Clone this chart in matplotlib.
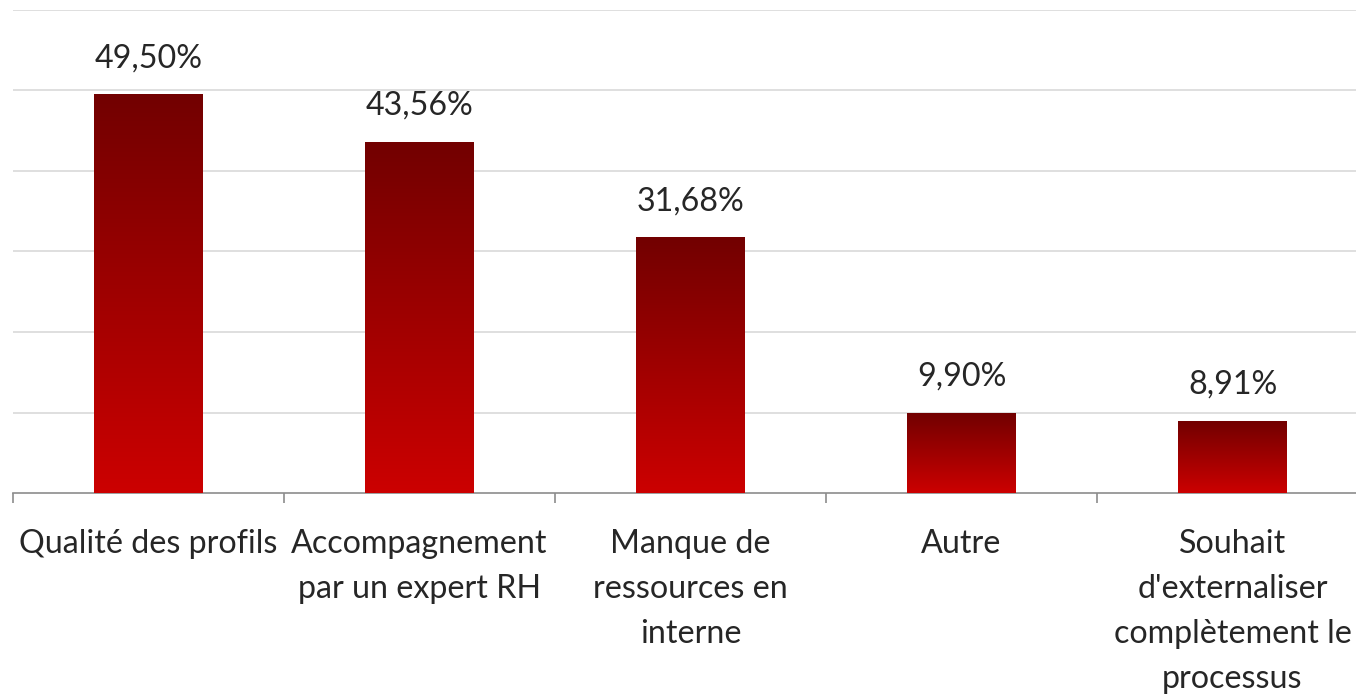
import matplotlib
matplotlib.use("Agg")
import matplotlib.pyplot as plt
import numpy as np
from matplotlib.colors import LinearSegmentedColormap

categories = ["Qualité des profils", "Accompagnement\npar un expert RH",
              "Manque de\nressources en\ninterne", "Autre",
              "Souhait\nd'externaliser\ncomplètement le\nprocessus"]
values = [49.50, 43.56, 31.68, 9.90, 8.91]
labels = ["49,50%", "43,56%", "31,68%", "9,90%", "8,91%"]

plt.rcParams['font.family'] = ['Lato', 'DejaVu Sans']

W, H = 1356, 694
fig = plt.figure(figsize=(W/100, H/100), dpi=100)
left, right, top, bottom = 13, 1368, 10, 493
ax = fig.add_axes([left/W, 1-bottom/H, (right-left)/W, (bottom-top)/H])
ax.set_xlim(0, 5)
ax.set_ylim(0, 60)

cmap = LinearSegmentedColormap.from_list("r", ["#cc0000", "#720000"])
grad = np.linspace(0, 1, 256).reshape(-1, 1)
bw = 0.40
x = np.arange(len(values)) + 0.5
for xi, v, lab in zip(x, values, labels):
    ax.imshow(grad, extent=(xi-bw/2, xi+bw/2, 0, v), origin='lower', cmap=cmap,
              aspect='auto', zorder=3)
    ax.text(xi, v + 3.4, lab, ha='center', va='baseline', fontsize=23.2, color='#262626')

for y in range(10, 61, 10):
    ax.axhline(y, color='#d9d9d9', lw=1.2, zorder=1)
for s in ['top', 'right', 'left']:
    ax.spines[s].set_visible(False)
ax.spines['bottom'].set_color('#8c8c8c')
ax.spines['bottom'].set_linewidth(1.2)
ax.set_yticks([])
ax.set_xticks(np.arange(0, 6))
ax.set_xticklabels([])
ax.tick_params(axis='x', length=7, color='#8c8c8c', width=1.2)
for xi, c in zip(x, categories):
    ax.text(xi, -4.5, c, ha='center', va='top', fontsize=23.2, color='#262626',
            linespacing=1.62)
ax.set_xlim(0, 5)
ax.set_ylim(0, 60)
fig.savefig("out.png", dpi=100)
